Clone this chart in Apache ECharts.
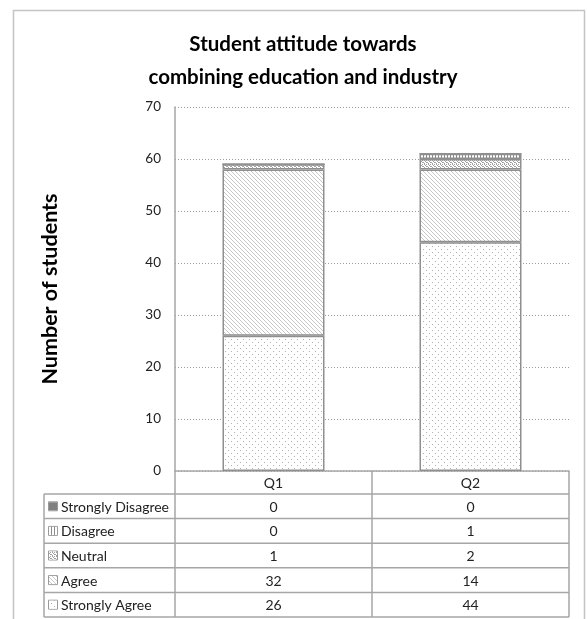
<!DOCTYPE html>
<html><head><meta charset="utf-8">
<script src="https://cdn.jsdelivr.net/npm/echarts@6/dist/echarts.min.js"></script>
<style>html,body{margin:0;padding:0;background:#fff}#c{width:587px;height:619px}</style>
</head><body><div id="c"></div>
<script>
const categories = ['Q1', 'Q2'];
const seriesNames = ['Strongly Agree', 'Agree', 'Neutral', 'Disagree', 'Strongly Disagree'];
const stronglyAgree = [26, 44];
const agree = [32, 14];
const neutral = [1, 2];
const disagree = [0, 1];
const stronglyDisagree = [0, 0];
const yTicks = [0, 10, 20, 30, 40, 50, 60, 70];
const titleText = 'Student attitude towards\ncombining education and industry';
const yTitle = 'Number of students';

const values = [stronglyAgree, agree, neutral, disagree, stronglyDisagree];

function makePattern(kind) {
  const c = document.createElement('canvas');
  let w = 4, h = 4;
  if (kind === 'dots') { w = 6; h = 6; }
  if (kind === 'vert') { w = 3; h = 1; }
  c.width = w; c.height = h;
  const g = c.getContext('2d');
  g.fillStyle = '#ffffff'; g.fillRect(0, 0, w, h);
  if (kind === 'dots') {
    g.fillStyle = '#b0b0b0';
    g.fillRect(0, 0, 1, 1); g.fillRect(3, 3, 1, 1);
  } else if (kind === 'diag') {
    g.fillStyle = '#c8c8c8';
    for (let i = 0; i < 4; i++) g.fillRect(i, i, 1, 1);
  } else if (kind === 'cross') {
    g.fillStyle = '#a0a0a0';
    g.fillRect(0, 0, 1, 1); g.fillRect(2, 0, 1, 1); g.fillRect(1, 1, 1, 1);
    g.fillRect(3, 2, 1, 1); g.fillRect(0, 3, 1, 1); g.fillRect(2, 2, 1, 1);
  } else if (kind === 'vert') {
    g.fillStyle = '#8a8a8a';
    g.fillRect(0, 0, 1, 1);
  } else if (kind === 'solid') {
    g.fillStyle = '#808080'; g.fillRect(0, 0, w, h);
  }
  return c;
}
const kinds = ['dots', 'diag', 'cross', 'vert', 'solid'];
const fills = kinds.map(k => ({ image: makePattern(k), repeat: 'repeat' }));

const FONT = 'Lato, "Open Sans", sans-serif';
const G = { left: 175, right: 18, top: 107, bottom: 148 };

const chart = echarts.init(document.getElementById('c'), null, { renderer: 'canvas' });

const series = seriesNames.map((n, i) => ({
  name: n, type: 'bar', stack: 'all', barWidth: 102,
  data: values[i],
  itemStyle: { color: fills[i], borderColor: '#8f8f8f', borderWidth: 1.5 },
  emphasis: { disabled: true }
}));

chart.setOption({
  animation: false,
  title: {
    text: titleText, left: 298, top: 23, textAlign: 'center',
    textStyle: { fontFamily: FONT, fontWeight: 'bold', fontSize: 20.5, lineHeight: 33, color: '#000' }
  },
  grid: G,
  xAxis: {
    type: 'category', data: categories,
    axisLine: { show: true, lineStyle: { color: '#a6a6a6', width: 1.5 } },
    axisTick: { show: false }, axisLabel: { show: false }
  },
  yAxis: {
    type: 'value', min: 0, max: 70, interval: 10,
    name: yTitle, nameLocation: 'middle', nameGap: 114, nameRotate: 90,
    nameTextStyle: { fontFamily: FONT, fontWeight: 'bold', fontSize: 21.5, color: '#000' },
    axisLine: { show: true, lineStyle: { color: '#a6a6a6', width: 1.5 } },
    axisTick: { show: false },
    axisLabel: { fontFamily: FONT, fontSize: 13.5, color: '#222', margin: 14,
      formatter: v => yTicks.includes(v) ? String(v) : '' },
    splitLine: { lineStyle: { color: '#9a9a9a', type: [1, 2], width: 1 } }
  },
  series
});

// Build the data table below the plot
const W = 587, H = 619;
const plotL = G.left, plotR = W - G.right, plotB = H - G.bottom;
const tableL = 44, headH = 23, rowH = 24.6;
const colSplit = (chart.convertToPixel({ xAxisIndex: 0 }, 0) + chart.convertToPixel({ xAxisIndex: 0 }, 1)) / 2;
const centers = categories.map((c, i) => chart.convertToPixel({ xAxisIndex: 0 }, i));
const lineStyle = { stroke: '#a6a6a6', lineWidth: 1.5 };
const TF = '14px ' + FONT;
const els = [];
els.push({ type: 'rect', shape: { x: 13.5, y: 10.5, width: 571, height: 640 }, style: { fill: null, stroke: '#c4c4c4', lineWidth: 1.5 }, silent: true });
const rowsTop = plotB + headH;
const tableB = rowsTop + rowH * 5;
els.push({ type: 'line', shape: { x1: plotL, y1: rowsTop, x2: plotR, y2: rowsTop }, style: lineStyle });
els.push({ type: 'line', shape: { x1: tableL, y1: rowsTop, x2: plotL, y2: rowsTop }, style: lineStyle });
els.push({ type: 'line', shape: { x1: plotR, y1: plotB, x2: plotR, y2: tableB }, style: lineStyle });
els.push({ type: 'line', shape: { x1: colSplit, y1: plotB, x2: colSplit, y2: tableB }, style: lineStyle });
els.push({ type: 'line', shape: { x1: plotL, y1: plotB, x2: plotL, y2: tableB }, style: lineStyle });
els.push({ type: 'line', shape: { x1: tableL, y1: rowsTop, x2: tableL, y2: tableB }, style: lineStyle });
categories.forEach((c, i) => {
  els.push({ type: 'text', style: { text: c, x: centers[i], y: plotB + headH / 2 + 1, align: 'center', verticalAlign: 'middle', font: TF, fill: '#222' } });
});
const order = [4, 3, 2, 1, 0];
order.forEach((si, r) => {
  const y0 = rowsTop + rowH * r;
  els.push({ type: 'line', shape: { x1: tableL, y1: y0 + rowH, x2: plotR, y2: y0 + rowH }, style: lineStyle });
  els.push({ type: 'rect', shape: { x: 48.5, y: y0 + rowH / 2 - 4.5, width: 9, height: 9 }, style: { fill: 'rgba(0,0,0,0)', stroke: '#9a9a9a', lineWidth: 1 } });
  els.push({ type: 'rect', shape: { x: 49, y: y0 + rowH / 2 - 4, width: 8, height: 8 }, style: { fill: fills[si] } });
  els.push({ type: 'text', style: { text: seriesNames[si], x: 61, y: y0 + rowH / 2 + 1, align: 'left', verticalAlign: 'middle', font: TF, fill: '#222' } });
  categories.forEach((c, i) => {
    els.push({ type: 'text', style: { text: String(values[si][i]), x: centers[i], y: y0 + rowH / 2 + 1, align: 'center', verticalAlign: 'middle', font: TF, fill: '#222' } });
  });
});
chart.setOption({ graphic: { elements: els } });
</script>
</body></html>
